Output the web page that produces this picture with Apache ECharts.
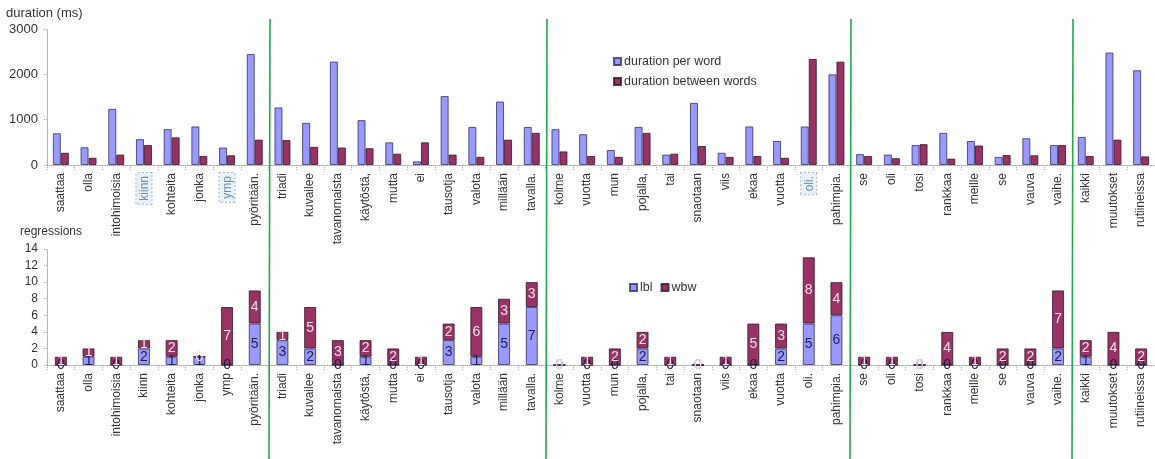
<!DOCTYPE html>
<html>
<head>
<meta charset="utf-8">
<script src="https://cdn.jsdelivr.net/npm/echarts@6/dist/echarts.min.js"></script>
<style>
  html, body { margin: 0; padding: 0; background: #fff; }
  #chart { width: 1155px; height: 459px; }
</style>
</head>
<body>
<div id="chart"></div>
<script>
// Words of the read text, in reading order
const words = [
  'saattaa', 'olla', 'intohimoisia', 'kiinn', 'kohteita', 'jonka', 'ymp', 'pyöritään.',
  'triadi', 'kuvailee', 'tavanomaista', 'käytöstä,', 'mutta', 'ei', 'tausotja', 'valota', 'millään', 'tavalla.',
  'kolme', 'vuotta', 'mun', 'pojalla,', 'tai', 'snaotaan', 'viis', 'ekaa', 'vuotta', 'oli.', 'pahimpia.',
  'se', 'oli', 'tosi', 'rankkaa', 'meille', 'se', 'vauva', 'vaihe.',
  'kaikki', 'muutokset', 'rutiineissa'
];

// Durations in milliseconds
const durationPerWord = [
  700, 390, 1240, 570, 790, 850, 385, 2450,
  1270, 930, 2280, 990, 500, 80, 1520, 840, 1400, 840,
  790, 680, 330, 840, 230, 1370, 270, 850, 530, 850, 2000,
  240, 230, 440, 710, 530, 180, 590, 440,
  620, 2480, 2090
];
const durationBetweenWords = [
  270, 160, 230, 440, 610, 200, 215, 560,
  550, 400, 385, 370, 250, 500, 230, 180, 560, 710,
  300, 200, 180, 710, 250, 420, 180, 200, 160, 2340, 2280,
  200, 150, 460, 140, 430, 220, 215, 440,
  200, 560, 190
];

// Regression counts
const lbl = [
  0, 1, 0, 2, 1, 1, 0, 5,
  3, 2, 0, 1, 0, 0, 3, 1, 5, 7,
  0, 0, 0, 2, 0, 0, 0, 0, 2, 5, 6,
  0, 0, 0, 0, 0, 0, 0, 2,
  1, 0, 0
];
const wbw = [
  1, 1, 1, 1, 2, 0, 7, 4,
  1, 5, 3, 2, 2, 1, 2, 6, 3, 3,
  0, 1, 2, 2, 1, 0, 1, 5, 3, 8, 4,
  1, 1, 0, 4, 1, 2, 2, 7,
  2, 4, 2
];

// Words marked in the duration panel
const markedWords = [3, 6, 27];
// First word of each new sentence
const sentenceStarts = [8, 18, 29, 37];

const BLUE = '#9999ff';
const PLUM = '#993366';
const FONT = '"Liberation Sans", Arial, sans-serif';
const AXIS_GRAY = '#a8a8a8';

const chart = echarts.init(document.getElementById('chart'), null, { renderer: 'canvas' });

function xAxisBase(gridIndex, marked) {
  return {
    type: 'category',
    gridIndex: gridIndex,
    data: words,
    axisLine: { lineStyle: { color: AXIS_GRAY, type: 'dotted', width: 1 } },
    axisTick: { show: true, length: 5, lineStyle: { color: AXIS_GRAY, type: 'dotted' } },
    axisLabel: {
      interval: 0,
      rotate: 90,
      margin: 8,
      fontFamily: FONT,
      fontSize: 12,
      color: '#333',
      formatter: marked
        ? function (value, index) {
            return marked.indexOf(index) >= 0 ? '{hl|' + value + '}' : value;
          }
        : null,
      rich: marked ? {
        hl: {
          fontFamily: FONT,
          fontSize: 12,
          color: '#6f8fae',
          backgroundColor: '#e6f2f8',
          borderColor: '#9fb3c4',
          borderWidth: 1,
          borderType: 'dotted',
          padding: [2, 3, 1, 3]
        }
      } : undefined
    },
    splitLine: { show: false }
  };
}

function yAxisBase(gridIndex, max, interval, fontSize) {
  return {
    type: 'value',
    gridIndex: gridIndex,
    min: 0,
    max: max,
    interval: interval,
    axisLine: { show: true, lineStyle: { color: AXIS_GRAY, type: 'dotted', width: 1 } },
    axisTick: { show: true, length: 3, lineStyle: { color: AXIS_GRAY, type: 'dotted' } },
    axisLabel: {
      fontFamily: FONT, fontSize: fontSize, color: '#333', margin: 9,
      formatter: function (v) { return String(v); }
    },
    splitLine: { show: false }
  };
}

const option = {
  animation: false,
  backgroundColor: '#fff',
  textStyle: { fontFamily: FONT },
  grid: [
    { left: 47, right: 0, top: 29, height: 136, containLabel: false },
    { left: 47, right: 0, top: 249, height: 116, containLabel: false }
  ],
  legend: [
    {
      data: ['duration per word', 'duration between words'],
      orient: 'vertical',
      left: 608,
      top: 50,
      itemWidth: 7,
      itemHeight: 7,
      itemGap: 7,
      icon: 'rect',
      textStyle: { fontFamily: FONT, fontSize: 12.5, color: '#333', padding: [0, 0, 0, -2] }
    },
    {
      data: ['lbl', 'wbw'],
      orient: 'horizontal',
      left: 624,
      top: 276,
      itemWidth: 7,
      itemHeight: 7,
      itemGap: 8,
      icon: 'rect',
      textStyle: { fontFamily: FONT, fontSize: 12.5, color: '#333', padding: [0, 0, 0, -2] }
    }
  ],
  xAxis: [xAxisBase(0, markedWords), xAxisBase(1, null)],
  yAxis: [yAxisBase(0, 3000, 1000, 13), yAxisBase(1, 14, 2, 12)],
  series: [
    {
      name: 'duration per word',
      type: 'bar',
      xAxisIndex: 0, yAxisIndex: 0,
      data: durationPerWord,
      barWidth: 8,
      barGap: '0%',
      itemStyle: { color: BLUE, borderColor: 'rgba(40,40,80,0.75)', borderWidth: 1 }
    },
    {
      name: 'duration between words',
      type: 'bar',
      xAxisIndex: 0, yAxisIndex: 0,
      data: durationBetweenWords,
      barWidth: 8,
      barGap: '0%',
      itemStyle: { color: PLUM, borderColor: 'rgba(50,20,40,0.8)', borderWidth: 1 }
    },
    {
      name: 'lbl',
      type: 'bar',
      stack: 'regressions',
      xAxisIndex: 1, yAxisIndex: 1,
      data: lbl,
      barWidth: 12,
      itemStyle: { color: BLUE, borderColor: 'rgba(40,40,80,0.75)', borderWidth: 1 },
      label: {
        show: true, position: 'inside',
        fontFamily: FONT, fontSize: 14, color: '#1d1d4d'
      }
    },
    {
      name: 'wbw',
      type: 'bar',
      stack: 'regressions',
      xAxisIndex: 1, yAxisIndex: 1,
      data: wbw,
      barWidth: 12,
      itemStyle: { color: PLUM, borderColor: 'rgba(50,20,40,0.8)', borderWidth: 1 },
      label: {
        show: true, position: 'inside',
        fontFamily: FONT, fontSize: 14, color: '#f6e1ec'
      }
    }
  ],
  graphic: [
    {
      type: 'text', left: 6, top: 7,
      style: { text: 'duration (ms)', fontFamily: FONT, fontSize: 13, fill: '#333' }
    },
    {
      type: 'text', left: 20, top: 226,
      style: { text: 'regressions', fontFamily: FONT, fontSize: 12, fill: '#333' }
    }
  ]
};

chart.setOption(option);

// Sentence separators, placed on the boundaries between categories
const first = chart.convertToPixel({ xAxisIndex: 0 }, 0);
const second = chart.convertToPixel({ xAxisIndex: 0 }, 1);
const band = second - first;
const separators = sentenceStarts.map(function (idx) {
  const x = Math.round(chart.convertToPixel({ xAxisIndex: 0 }, idx) - band / 2) + 1;
  return {
    type: 'line',
    shape: { x1: x, y1: 19, x2: x - 1, y2: 459 },
    style: { stroke: '#21a84a', lineWidth: 1.6 },
    z: 10
  };
});
chart.setOption({ graphic: option.graphic.concat(separators) });
</script>
</body>
</html>
